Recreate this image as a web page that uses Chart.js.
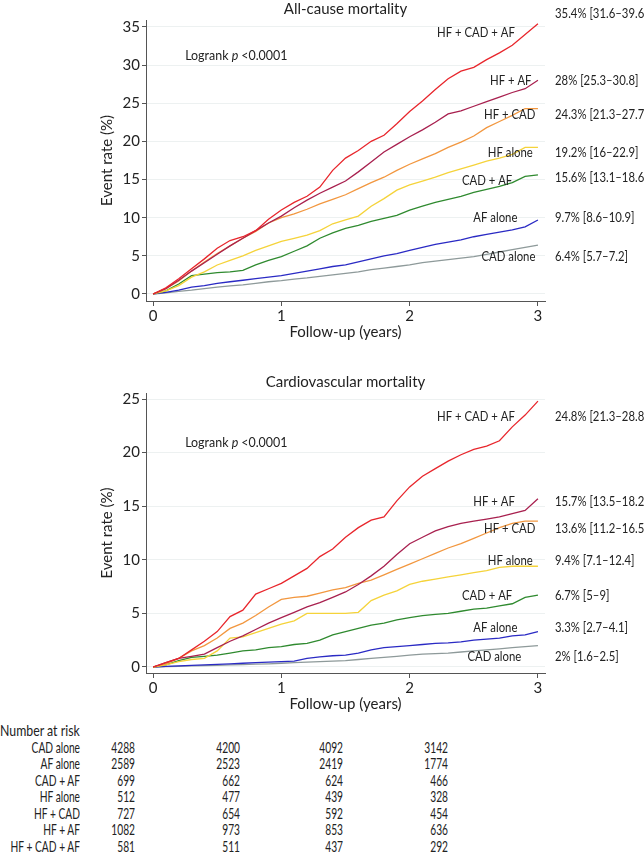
<!DOCTYPE html>
<html lang="en">
<head>
  <meta charset="UTF-8" />
  <title>All-cause and cardiovascular mortality</title>
  <script src="https://cdn.jsdelivr.net/npm/chart.js"></script>
  <style>
    body { margin: 0; background: #fff; font-family: Lato, sans-serif; color: #222; }
    #wrap { position: relative; width: 644px; height: 852px; overflow: hidden; }
    canvas { position: absolute; left: 0; }
    #chartAll { top: 0; }
    #chartCv { top: 373px; }
    .cell { position: absolute; width: 200px; height: 17px; line-height: 17px; text-align: right;
            white-space: nowrap; transform-origin: right center; }
  </style>
</head>
<body>
<div id="wrap">
  <canvas id="chartAll" width="644" height="345"></canvas>
  <canvas id="chartCv" width="644" height="344"></canvas>
  <div id="risk"></div>
</div>

<script>
// follow-up time (years)
const years = [0, 0.1, 0.2, 0.3, 0.4, 0.5, 0.6, 0.7, 0.8, 0.9, 1.0, 1.1, 1.2, 1.3, 1.4, 1.5,
  1.6, 1.7, 1.8, 1.9, 2.0, 2.1, 2.2, 2.3, 2.4, 2.5, 2.6, 2.7, 2.8, 2.9, 3.0];
const xTicks = [0, 1, 2, 3];

// groups, top to bottom as labelled on the right
const groups = ['HF + CAD + AF', 'HF + AF', 'HF + CAD', 'HF alone', 'CAD + AF', 'AF alone', 'CAD alone'];
const colors = ['#e8262c', '#a8204f', '#f2973f', '#f5d33a', '#2f8a2f', '#2a2ac4', '#8e9a9a'];

// All-cause mortality, event rate (%)
const acHfCadAf = [0, 0.8, 2.0, 3.3, 4.6, 6.0, 7.0, 7.5, 8.3, 9.8, 11.0, 12.0, 12.8, 14.0, 16.2, 17.8,
  18.8, 20.0, 20.8, 22.3, 23.9, 25.3, 26.8, 28.2, 29.2, 29.7, 30.7, 31.6, 32.6, 34.0, 35.4];
const acHfAf = [0, 0.7, 1.8, 3.0, 4.1, 5.2, 6.3, 7.3, 8.3, 9.3, 10.2, 11.3, 12.3, 13.2, 14.0, 14.8,
  16.0, 17.3, 18.6, 19.6, 20.6, 21.5, 22.5, 23.6, 24.0, 24.6, 25.2, 25.8, 26.4, 26.9, 28.0];
const acHfCad = [0, 0.7, 1.7, 3.0, 4.2, 5.3, 6.3, 7.3, 8.2, 9.3, 10.0, 10.5, 11.1, 11.8, 12.4, 13.0,
  13.8, 14.6, 15.3, 16.2, 17.0, 17.7, 18.4, 19.2, 19.9, 20.7, 21.8, 22.6, 23.4, 24.3, 24.3];
const acHf = [0, 0.4, 1.1, 2.2, 2.9, 3.8, 4.4, 5.0, 5.7, 6.3, 6.9, 7.3, 7.7, 8.3, 9.2, 9.7,
  10.2, 11.5, 12.5, 13.6, 14.3, 14.8, 15.3, 15.9, 16.4, 16.9, 17.4, 17.8, 18.3, 19.2, 19.2];
const acCadAf = [0, 0.4, 1.3, 2.4, 2.6, 2.8, 2.9, 3.1, 3.8, 4.4, 4.9, 5.6, 6.3, 7.3, 8.0, 8.6,
  9.0, 9.5, 9.9, 10.3, 11.0, 11.5, 12.0, 12.4, 12.8, 13.3, 13.7, 14.1, 14.6, 15.4, 15.6];
const acAf = [0, 0.2, 0.5, 0.9, 1.1, 1.4, 1.6, 1.8, 2.0, 2.2, 2.4, 2.7, 3.0, 3.3, 3.6, 3.8,
  4.2, 4.6, 5.0, 5.3, 5.7, 6.1, 6.5, 6.8, 7.1, 7.5, 7.8, 8.1, 8.4, 8.8, 9.7];
const acCad = [0, 0.15, 0.35, 0.5, 0.7, 0.9, 1.05, 1.2, 1.4, 1.6, 1.75, 1.95, 2.1, 2.3, 2.5, 2.7,
  2.9, 3.2, 3.4, 3.6, 3.8, 4.1, 4.3, 4.5, 4.7, 4.9, 5.2, 5.5, 5.8, 6.1, 6.4];
const acFinal = ['35.4% [31.6–39.6]', '28% [25.3–30.8]', '24.3% [21.3–27.7]', '19.2% [16–22.9]',
  '15.6% [13.1–18.6]', '9.7% [8.6–10.9]', '6.4% [5.7–7.2]'];

// Cardiovascular mortality, event rate (%)
const cvHfCadAf = [0, 0.4, 0.8, 1.6, 2.4, 3.3, 4.7, 5.3, 6.8, 7.3, 7.8, 8.5, 9.2, 10.3, 11.0, 12.1,
  13.0, 13.7, 14.0, 15.5, 16.8, 17.8, 18.5, 19.2, 19.8, 20.3, 20.6, 21.1, 22.4, 23.5, 24.8];
const cvHfAf = [0, 0.4, 0.8, 1.0, 1.2, 1.8, 2.4, 2.9, 3.5, 4.1, 4.6, 5.1, 5.6, 6.0, 6.5, 7.0,
  7.7, 8.5, 9.4, 10.5, 11.5, 12.1, 12.7, 13.1, 13.4, 13.6, 13.8, 14.0, 14.3, 14.6, 15.7];
const cvHfCad = [0, 0.3, 0.8, 1.5, 2.0, 2.7, 3.6, 4.1, 4.8, 5.6, 6.3, 6.5, 6.6, 6.9, 7.2, 7.4,
  7.8, 8.1, 8.6, 9.1, 9.6, 10.1, 10.6, 11.1, 11.5, 12.0, 12.5, 13.0, 13.4, 13.6, 13.6];
const cvHf = [0, 0.2, 0.5, 0.7, 0.8, 1.5, 2.7, 2.8, 3.2, 3.6, 4.0, 4.3, 5.0, 5.0, 5.0, 5.0,
  5.1, 6.2, 6.7, 7.1, 7.7, 8.0, 8.2, 8.4, 8.6, 8.8, 9.0, 9.3, 9.4, 9.4, 9.4];
const cvCadAf = [0, 0.2, 0.6, 0.9, 1.0, 1.1, 1.3, 1.5, 1.6, 1.8, 1.9, 2.1, 2.2, 2.5, 3.0, 3.3,
  3.6, 3.9, 4.1, 4.4, 4.6, 4.8, 4.9, 5.0, 5.2, 5.4, 5.5, 5.7, 5.9, 6.5, 6.7];
const cvAf = [0, 0.05, 0.1, 0.15, 0.2, 0.25, 0.3, 0.35, 0.4, 0.45, 0.5, 0.55, 0.8, 0.95, 1.05, 1.1,
  1.3, 1.6, 1.8, 1.9, 2.0, 2.1, 2.2, 2.25, 2.35, 2.5, 2.6, 2.7, 2.9, 3.0, 3.3];
const cvCad = [0, 0.03, 0.06, 0.1, 0.13, 0.16, 0.2, 0.23, 0.27, 0.3, 0.35, 0.4, 0.45, 0.5, 0.55, 0.6,
  0.7, 0.8, 0.9, 1.0, 1.1, 1.2, 1.25, 1.3, 1.4, 1.5, 1.6, 1.7, 1.8, 1.9, 2.0];
const cvFinal = ['24.8% [21.3–28.8]', '15.7% [13.5–18.2]', '13.6% [11.2–16.5]', '9.4% [7.1–12.4]',
  '6.7% [5–9]', '3.3% [2.7–4.1]', '2% [1.6–2.5]'];

// Number at risk
const riskGroups = ['CAD alone', 'AF alone', 'CAD + AF', 'HF alone', 'HF + CAD', 'HF + AF', 'HF + CAD + AF'];
const risk0 = [4288, 2589, 699, 512, 727, 1082, 581];
const risk1 = [4200, 2523, 662, 477, 654, 973, 511];
const risk2 = [4092, 2419, 624, 439, 592, 853, 437];
const risk3 = [3142, 1774, 466, 328, 454, 636, 292];

// label placement (years / %), kept apart from the data
const acLabelX = [2.82, 2.95, 2.98, 2.96, 2.80, 2.84, 2.98];
const acLabelY = [34.2, 28.0, 23.5, 18.5, 14.9, 10.0, 4.85];
const acValueY = [36.7, 28.0, 23.5, 18.5, 15.2, 10.0, 4.85];
const cvLabelX = [2.82, 2.82, 2.98, 2.96, 2.80, 2.84, 2.87];
const cvLabelY = [23.4, 15.4, 12.9, 9.9, 6.7, 3.7, 1.0];

const FONT = 'Lato, sans-serif';
const SQUEEZE = 0.81; // the source figure's text is horizontally condensed

function squeezedText(ctx, text, x, y, align, sx) {
  ctx.save();
  ctx.translate(x, y);
  ctx.scale(sx, 1);
  ctx.textAlign = align;
  ctx.fillText(text, 0, 0);
  ctx.restore();
}

// title, texts at the right of the curves, logrank note
const sideLabels = {
  id: 'sideLabels',
  afterDatasetsDraw(chart, args, opts) {
    const { ctx, chartArea, scales } = chart;
    ctx.save();
    ctx.fillStyle = '#222';
    ctx.textBaseline = 'middle';

    ctx.font = '15px ' + FONT;
    ctx.textAlign = 'center';
    ctx.fillText(opts.title, (chartArea.left + chartArea.right) / 2, 9);

    ctx.font = '14px ' + FONT;
    groups.forEach((g, i) => {
      squeezedText(ctx, g, scales.x.getPixelForValue(opts.labelX[i]),
        scales.y.getPixelForValue(opts.labelY[i]), 'right', SQUEEZE);
      squeezedText(ctx, opts.finals[i], chartArea.right + 10,
        scales.y.getPixelForValue(opts.valueY[i]), 'left', SQUEEZE);
    });

    // Logrank p <0.0001
    const sx = 0.89;
    const y = scales.y.getPixelForValue(opts.logrankY);
    ctx.translate(scales.x.getPixelForValue(0.25), y);
    ctx.scale(sx, 1);
    ctx.textAlign = 'left';
    let x = 0;
    ctx.fillText('Logrank ', x, 0);
    x += ctx.measureText('Logrank ').width;
    ctx.font = 'italic 14px ' + FONT;
    ctx.fillText('p', x, 0);
    x += ctx.measureText('p ').width;
    ctx.font = '14px ' + FONT;
    ctx.fillText('<0.0001', x, 0);
    ctx.restore();
  }
};

function makePanel(id, title, series, yMin, yMax, yTicks, labelX, labelY, valueY, finals, logrankY) {
  const datasets = series.map((s, i) => ({
    label: groups[i],
    data: years.map((t, k) => ({ x: t, y: s[k] })),
    borderColor: colors[i],
    borderWidth: 1.3,
    pointRadius: 0,
    tension: 0,
    order: i // red drawn last, on top
  }));

  new Chart(document.getElementById(id), {
    type: 'line',
    data: { datasets },
    plugins: [sideLabels],
    options: {
      responsive: false,
      animation: false,
      layout: { padding: { left: 0, right: 99, top: 20, bottom: 0 } },
      plugins: {
        legend: { display: false },
        tooltip: { enabled: false },
        title: { display: false },
        sideLabels: { title, labelX, labelY, valueY, finals, logrankY }
      },
      scales: {
        x: {
          type: 'linear',
          min: -0.055,
          max: 3.055,
          afterBuildTicks: s => { s.ticks = xTicks.map(v => ({ value: v })); },
          afterFit: s => { s.height = 44; },
          grid: { drawOnChartArea: false, drawTicks: true, tickLength: 5, tickColor: '#555' },
          border: { color: '#555', width: 1 },
          ticks: { color: '#222', padding: 1, font: { family: FONT, size: 15 } },
          title: {
            display: true,
            text: 'Follow-up (years)',
            color: '#222',
            font: { family: FONT, size: 15 },
            padding: { top: 0, bottom: 4 }
          }
        },
        y: {
          min: yMin,
          max: yMax,
          afterBuildTicks: s => { s.ticks = yTicks.map(v => ({ value: v })); },
          afterFit: s => { s.width = 146; },
          grid: { color: '#edf1f1', lineWidth: 1, drawTicks: true, tickLength: 4, tickColor: '#555' },
          border: { color: '#555', width: 1 },
          ticks: { color: '#222', padding: 2, font: { family: FONT, size: 15 } },
          title: {
            display: true,
            text: 'Event rate (%)',
            color: '#222',
            font: { family: FONT, size: 15 },
            padding: { top: 98, bottom: 0 }
          }
        }
      }
    }
  });
}

makePanel('chartAll', 'All-cause mortality',
  [acHfCadAf, acHfAf, acHfCad, acHf, acCadAf, acAf, acCad],
  -0.92, 35.9, [0, 5, 10, 15, 20, 25, 30, 35],
  acLabelX, acLabelY, acValueY, acFinal, 31.2);

makePanel('chartCv', 'Cardiovascular mortality',
  [cvHfCadAf, cvHfAf, cvHfCad, cvHf, cvCadAf, cvAf, cvCad],
  -0.56, 25.56, [0, 5, 10, 15, 20, 25],
  cvLabelX, cvLabelY, cvLabelY, cvFinal, 20.9);

// number-at-risk table: right edges of the columns and row centres
const risk = document.getElementById('risk');
const colRight = [80, 135, 240, 343, 448];
function addCell(text, right, centerY, size, sx) {
  const d = document.createElement('div');
  d.className = 'cell';
  d.textContent = text;
  d.style.left = (right - 200) + 'px';
  d.style.top = (centerY - 8.5) + 'px';
  d.style.fontSize = size + 'px';
  d.style.transform = 'scaleX(' + sx + ')';
  risk.appendChild(d);
}
const head = document.createElement('div');
head.className = 'cell';
head.textContent = 'Number at risk';
head.style.cssText = 'left:0;top:721px;font-size:16px;text-align:left;transform:scaleX(0.77);transform-origin:left center;';
risk.appendChild(head);
riskGroups.forEach((g, i) => {
  const cy = 747 + i * 16.5;
  [g, risk0[i], risk1[i], risk2[i], risk3[i]].forEach((v, c) => addCell(v, colRight[c], cy, 15, 0.68));
});
</script>
</body>
</html>
